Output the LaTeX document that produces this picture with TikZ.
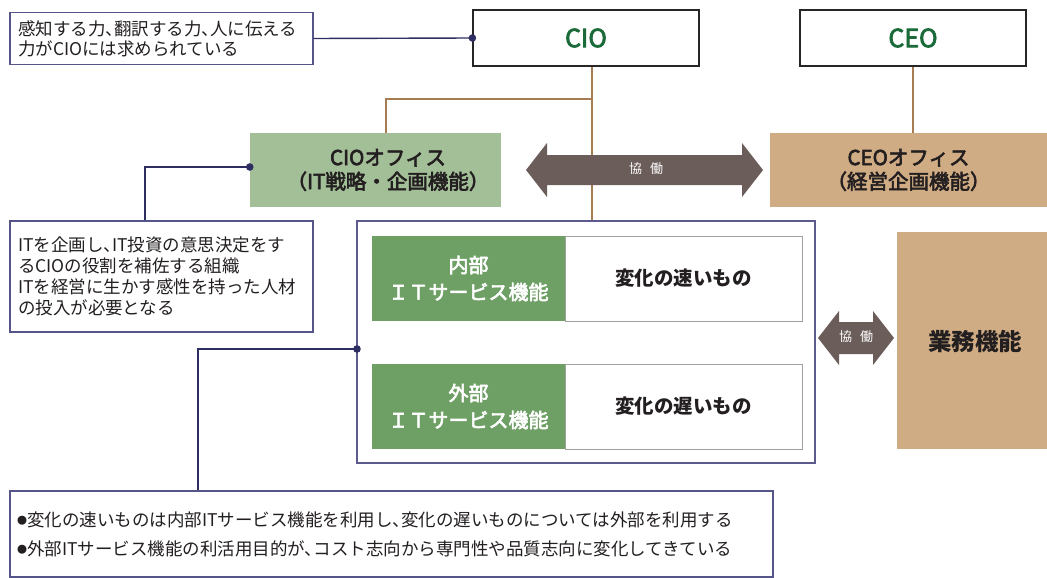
\documentclass[tikz,border=0pt]{standalone}
\usepackage{fontspec}
\setmainfont{Noto Sans CJK JP}
\newfontfamily\jpp[RawFeature=+halt]{Noto Sans CJK JP}
\newfontfamily\jpm[FakeBold=3]{Noto Sans CJK JP}
\usetikzlibrary{calc}
\definecolor{navyc}{HTML}{2E2E62}
\definecolor{calloutc}{HTML}{55558A}
\definecolor{bigc}{HTML}{5D5B8E}
\definecolor{brownc}{HTML}{A67C52}
\definecolor{lgreen}{HTML}{A3BF98}
\definecolor{dgreen}{HTML}{6EA066}
\definecolor{tanc}{HTML}{CFAC83}
\definecolor{arrowc}{HTML}{6B5D5A}
\definecolor{textc}{HTML}{231F20}
\definecolor{ciogreen}{HTML}{1B6B3A}
\definecolor{grayc}{HTML}{A0A0A0}
\newcommand{\bul}{\raisebox{1.5pt}{\fontsize{10}{10}\selectfont ●}}
\begin{document}
\begin{tikzpicture}[x=1pt,y=-1pt,
  callout/.style={draw=calloutc, line width=1.1pt, fill=white, inner xsep=8pt, inner ysep=0pt, align=left, text=textc},
  topbox/.style={draw=black!85, line width=1.2pt, fill=white, minimum width=226, minimum height=56, inner sep=0pt, text=ciogreen, font=\jpm\fontsize{25}{25}\selectfont},
  office/.style={minimum height=74, inner sep=0pt},
  officetext/.style={align=center, text=textc, font=\jpm\fontsize{20.5}{24}\selectfont},
  gbox/.style={fill=dgreen, minimum width=193, minimum height=85, inner sep=0pt, align=center, text=white, font=\jpm\fontsize{20}{27}\selectfont},
  wbox/.style={draw=grayc, line width=1pt, fill=white, minimum width=237, minimum height=85, inner sep=0pt, text=textc, font=\bfseries\fontsize{19.5}{20}\selectfont},
  navyline/.style={draw=navyc, line width=1.4pt},
  brownline/.style={draw=brownc, line width=2pt},
  kyodo/.style={text=white, font=\fontsize{13}{13}\selectfont, inner sep=0pt}
]
\useasboundingbox (0,0) rectangle (1047,578);

% top boxes
\node[topbox] (cio) at (586,38) {CIO};
\node[topbox] (ceo) at (913,38) {CEO};

% offices
\node[office, fill=lgreen, minimum width=251] (cioof) at (375.5,170) {};
\node[officetext] (cioofl) at (388,170) {CIOオフィス\\（IT戦略・企画機能）};
\node[office, fill=tanc, minimum width=277, officetext] (ceoof) at (908.5,170) {CEOオフィス\\（経営企画機能）};

% big box
\node[draw=bigc, line width=1.2pt, minimum width=458, minimum height=242, inner sep=0pt] (big) at (586,342) {};
\node[gbox] (in) at (468.5,278.5) {内部\\ＩＴサービス機能};
\node[wbox] (fast) at (683.5,278.5) {変化の速いもの};
\node[gbox] (out) at (468.5,406.5) {外部\\ＩＴサービス機能};
\node[wbox] (slow) at (683.5,406.5) {変化の遅いもの};

% business
\node[fill=tanc, minimum width=150, minimum height=217, inner sep=0pt] (gyomu) at (972,340.5) {};
\node[text=textc, font=\bfseries\fontsize{23.5}{23.5}\selectfont] (gyomul) at (975,341) {業務機能};

% brown connectors
\coordinate (bx) at (592,99);
\coordinate (bl) at (386,99);
\draw[brownline] (cio.south -| bx) -- (bx |- big.north);
\draw[brownline] (bx) -- (bl) -- (bl |- cioof.north);
\draw[brownline] (ceo.south) -- (ceo.south |- ceoof.north);

% big double arrow
\fill[arrowc] (526,170) -- (547,143) -- (547,155) -- (742,155) -- (742,143) -- (763,170)
  -- (742,197) -- (742,185) -- (547,185) -- (547,197) -- cycle;
\node[kyodo] (k1) at (646,169) {協\hspace{8pt}働};
% small double arrow
\fill[arrowc] (818,338) -- (839,311) -- (839,322) -- (873,322) -- (873,311) -- (894,338)
  -- (873,365) -- (873,354) -- (839,354) -- (839,365) -- cycle;
\node[kyodo] (k2) at (856,337) {協\hspace{8pt}働};

% callouts
\node[callout, minimum width=303, minimum height=52, text width=287pt, font=\jpp\fontsize{17.5}{20}\selectfont] (c1) at (161.5,38.5)
  {感知する力、翻訳する力、人に伝える\\力がCIOには求められている};
\node[callout, minimum width=303, minimum height=111, text width=287pt, font=\jpp\fontsize{17.5}{21}\selectfont] (c2) at (161.5,276.5)
  {ITを企画し、IT投資の意思決定をす\\るCIOの役割を補佐する組織\\ITを経営に生かす感性を持った人材\\の投入が必要となる};
\node[callout, minimum width=763, minimum height=86, text width=749pt, inner xsep=7pt, font=\jpp\fontsize{17.5}{29}\selectfont] (bot) at (391.5,534)
  {\bul 変化の速いものは内部ITサービス機能を利用し、変化の遅いものについては外部を利用する\\\bul 外部ITサービス機能の利活用目的が、コスト志向から専門性や品質志向に変化してきている};

% navy connectors
\draw[navyline] (c1.east) -- (cio.west);
\fill[navyc] (cio.west) circle (3.8pt);
\coordinate (k) at (145,167);
\draw[navyline] (c2.north -| k) -- (k) -- (k -| cioof.west);
\fill[navyc] (k -| cioof.west) circle (3.8pt);
\coordinate (bd) at (357,349);
\coordinate (kb) at (198,349);
\draw[navyline] (bd) -- (kb) -- (kb |- bot.north);
\fill[navyc] (bd) circle (3.8pt);
\end{tikzpicture}
\end{document}
